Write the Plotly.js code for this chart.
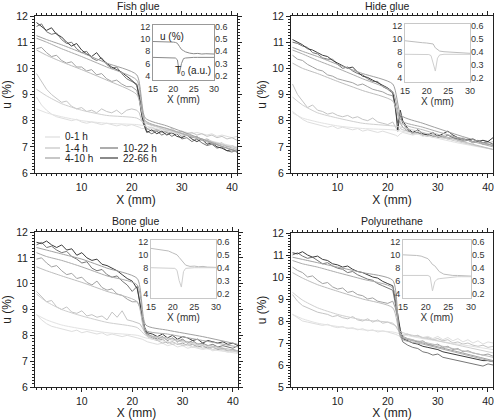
<!DOCTYPE html>
<html><head><meta charset="utf-8">
<script src="https://cdn.plot.ly/plotly-3.0.1.min.js"></script>
<style>html,body{margin:0;padding:0;background:#fff}</style>
</head><body>
<div id="chart" style="width:494px;height:420px"></div>
<script>
// ---------- DATA ----------
const seriesNames = ['0-1 h', '1-4 h', '4-10 h', '10-22 h', '22-66 h'];
const panelTitles = ['Fish glue', 'Hide glue', 'Bone glue', 'Polyurethane'];

// measured profiles: X (mm)
const X = [1,2,3,4,5,6,7,8,9,10,11,12,13,14,15,16,17,18,19,20,21,
  21.5,22,22.5,
  23,24,25,26,27,28,29,30,31,32,33,34,35,36,37,38,39,40,41];

// Fish glue
const fish_0_1 = [8.9,8.6,8.4,8.25,8.15,8.1,8.05,8.0,8.05,7.95,7.9,7.95,7.9,7.85,7.9,7.85,7.8,7.85,7.8,7.85,7.8,
  7.75,7.7,7.7,
  7.65,7.7,7.65,7.6,7.65,7.6,7.55,7.6,7.55,7.5,7.55,7.5,7.45,7.5,7.4,7.45,7.4,7.35,7.4];
const fish_1_4 = [9.8,9.5,9.2,9.0,8.85,8.7,8.75,8.55,8.45,8.5,8.35,8.4,8.3,8.45,8.35,8.3,8.4,8.25,8.4,8.45,8.4,
  8.3,8.0,7.8,
  7.7,7.75,7.65,7.7,7.6,7.7,7.55,7.6,7.5,7.55,7.45,7.5,7.4,7.45,7.35,7.4,7.3,7.35,7.25];
const fish_4_10 = [10.75,10.8,10.6,10.45,10.5,10.3,10.2,10.25,10.05,10.05,9.9,9.95,9.75,9.8,9.6,9.5,9.55,9.4,9.3,9.3,9.15,
  8.8,8.2,7.9,
  7.7,7.6,7.65,7.55,7.6,7.5,7.55,7.4,7.45,7.35,7.4,7.25,7.3,7.2,7.1,7.15,7.0,7.05,6.95];
const fish_10_22 = [11.6,11.7,11.4,11.3,11.35,11.1,10.95,11.0,10.75,10.6,10.65,10.4,10.3,10.4,10.15,10.0,10.05,9.8,9.6,9.5,9.4,
  9.0,8.4,7.9,
  7.6,7.5,7.6,7.45,7.55,7.4,7.5,7.3,7.35,7.2,7.3,7.15,7.05,7.1,6.95,7.0,6.85,6.8,6.9];
const fish_22_66 = [11.75,11.6,11.45,11.55,11.3,11.2,11.0,10.85,10.95,10.7,10.55,10.45,10.6,10.35,10.2,10.05,9.95,9.85,9.7,9.55,9.35,
  8.9,8.2,7.8,
  7.55,7.65,7.5,7.6,7.45,7.55,7.4,7.35,7.45,7.3,7.2,7.3,7.1,7.15,7.0,6.95,6.85,6.9,6.8];

// Hide glue
const hide_0_1 = [8.35,8.2,8.05,7.95,7.9,7.85,7.8,7.75,7.8,7.7,7.75,7.7,7.65,7.7,7.6,7.65,7.6,7.55,7.6,7.55,7.5,
  7.45,7.4,7.5,
  7.55,7.5,7.45,7.5,7.4,7.45,7.35,7.4,7.3,7.35,7.25,7.3,7.2,7.25,7.15,7.2,7.1,7.15,7.1];
const hide_1_4 = [9.4,9.0,8.75,8.5,8.6,8.4,8.35,8.25,8.3,8.2,8.15,8.2,8.1,8.15,8.05,8.0,8.1,7.95,7.9,7.85,7.95,
  7.8,7.6,7.7,
  7.65,7.6,7.55,7.5,7.55,7.45,7.5,7.4,7.45,7.35,7.4,7.3,7.35,7.25,7.3,7.2,7.25,7.15,7.2];
const hide_4_10 = [10.5,10.35,10.3,10.15,10.05,9.95,9.9,9.75,9.7,9.6,9.55,9.5,9.45,9.35,9.4,9.3,9.2,9.15,9.1,9.0,8.95,
  8.6,8.2,7.9,
  7.75,7.6,7.5,7.55,7.45,7.4,7.45,7.35,7.4,7.3,7.35,7.25,7.2,7.25,7.15,7.2,7.1,7.1,7.05];
const hide_10_22 = [11.0,10.95,10.85,10.8,10.6,10.55,10.4,10.35,10.35,10.15,10.0,10.05,9.9,9.8,9.75,9.6,9.5,9.5,9.3,9.2,9.05,
  8.4,7.9,8.2,
  7.9,7.65,7.5,7.55,7.45,7.5,7.4,7.45,7.35,7.45,7.35,7.3,7.25,7.3,7.2,7.25,7.15,7.2,7.1];
const hide_22_66 = [11.1,11.0,10.9,10.75,10.7,10.6,10.5,10.45,10.3,10.2,10.1,10.0,10.05,9.85,9.7,9.65,9.55,9.45,9.35,9.25,9.1,
  8.6,7.6,8.4,
  8.0,7.7,7.55,7.65,7.5,7.45,7.55,7.4,7.5,7.6,7.45,7.35,7.3,7.25,7.3,7.2,7.25,7.2,7.35];

// Bone glue
const bone_0_1 = [8.8,8.6,8.45,8.35,8.3,8.25,8.2,8.15,8.2,8.1,8.15,8.1,8.05,8.1,8.0,8.05,8.0,7.95,8.0,7.95,7.9,
  7.9,7.85,7.8,
  7.75,7.7,7.65,7.7,7.6,7.65,7.55,7.6,7.5,7.55,7.5,7.45,7.5,7.4,7.45,7.4,7.35,7.4,7.35];
const bone_1_4 = [9.7,9.5,9.3,9.35,9.1,9.0,9.1,8.9,8.85,8.95,8.75,8.8,8.7,8.75,8.6,8.9,8.7,8.95,8.6,8.55,8.5,
  8.45,8.3,8.1,
  7.95,7.85,7.8,7.7,7.75,7.65,7.7,7.6,7.65,7.55,7.6,7.5,7.55,7.45,7.5,7.45,7.4,7.45,7.35];
const bone_4_10 = [10.95,11.0,10.8,10.65,10.7,10.5,10.35,10.4,10.2,10.25,10.05,9.95,10.1,9.85,9.75,9.8,9.6,9.55,9.4,9.3,9.3,
  9.1,8.7,8.2,
  8.0,7.9,7.8,7.85,7.7,7.75,7.65,7.7,7.6,7.65,7.55,7.6,7.5,7.55,7.45,7.5,7.4,7.45,7.4];
const bone_10_22 = [11.5,11.6,11.4,11.45,11.3,11.2,11.25,11.05,10.95,10.8,10.85,10.6,10.5,10.55,10.35,10.25,10.3,10.1,9.95,9.7,9.9,
  9.2,8.6,8.2,
  8.05,7.95,7.85,7.95,7.8,7.9,7.75,7.85,7.7,7.8,7.65,7.7,7.6,7.65,7.55,7.6,7.55,7.5,7.6];
const bone_22_66 = [11.6,11.55,11.65,11.5,11.4,11.5,11.3,11.35,11.1,11.2,11.0,10.9,10.95,10.75,10.7,10.6,10.5,10.35,10.2,10.1,9.8,
  9.3,8.7,8.3,
  8.1,8.05,7.95,8.05,7.9,8.0,7.85,7.95,7.9,7.8,7.85,7.7,7.8,7.75,7.7,7.75,7.65,7.7,7.6];

// Polyurethane
const pu_0_1 = [8.3,8.15,8.0,7.95,7.9,7.85,7.8,7.85,7.75,7.7,7.75,7.65,7.7,7.6,7.65,7.55,7.6,7.5,7.55,7.5,7.45,
  7.4,7.35,7.3,
  7.35,7.4,7.3,7.35,7.25,7.3,7.2,7.3,7.15,7.25,7.1,7.2,7.05,7.15,7.0,7.1,6.95,7.05,7.0];
const pu_1_4 = [9.2,8.9,8.7,8.6,8.5,8.4,8.35,8.3,8.2,8.25,8.15,8.1,8.2,8.05,8.0,8.1,7.95,8.05,7.9,7.95,7.85,
  7.8,7.6,7.45,
  7.35,7.4,7.3,7.35,7.2,7.25,7.15,7.2,7.1,7.15,7.0,7.05,6.95,7.0,6.9,6.85,6.9,6.8,6.85];
const pu_4_10 = [10.45,10.3,10.2,10.0,10.05,9.85,9.7,9.75,9.55,9.45,9.5,9.3,9.35,9.2,9.15,9.0,9.05,8.9,8.85,8.8,8.9,
  8.6,8.1,7.6,
  7.3,7.2,7.15,7.05,7.1,6.95,6.9,6.95,6.8,6.85,6.7,6.75,6.6,6.65,6.55,6.5,6.45,6.5,6.4];
const pu_10_22 = [11.0,11.1,10.95,10.85,10.9,10.75,10.6,10.65,10.5,10.4,10.35,10.2,10.25,10.1,10.0,9.9,9.85,9.7,9.6,9.5,9.4,
  8.8,8.0,7.4,
  7.05,6.9,6.8,6.75,6.6,6.55,6.45,6.5,6.35,6.3,6.25,6.2,6.15,6.1,6.05,6.0,5.95,6.05,6.0];
const pu_22_66 = [11.1,11.05,11.15,11.0,10.9,10.95,10.8,10.75,10.6,10.55,10.45,10.5,10.35,10.25,10.2,10.1,10.0,9.95,9.8,9.7,9.6,
  9.0,8.2,7.6,
  7.2,7.1,7.0,6.95,6.85,6.8,6.75,6.7,6.6,6.55,6.5,6.45,6.4,6.35,6.3,6.25,6.2,6.2,6.15];

// fitted profiles
const fitX = [1,3,6,10,15,21,22.7,27,34,41];
const fishFit_0_1   = [8.45,8.3,8.15,8.0,7.9,7.85,7.8,7.6,7.3,7.0];
const fishFit_1_4   = [9.2,8.95,8.65,8.4,8.2,8.1,7.9,7.65,7.3,6.95];
const fishFit_4_10  = [10.7,10.5,10.25,9.95,9.55,9.0,7.95,7.7,7.3,6.9];
const fishFit_10_22 = [11.15,11.0,10.75,10.45,10.05,9.55,8.0,7.7,7.25,6.85];
const fishFit_22_66 = [11.25,11.1,10.9,10.6,10.2,9.75,8.1,7.8,7.3,6.8];
const hideFit_0_1   = [8.3,8.1,7.95,7.8,7.7,7.65,7.6,7.45,7.15,6.9];
const hideFit_1_4   = [8.9,8.6,8.3,8.1,7.9,7.8,7.75,7.55,7.2,6.9];
const hideFit_4_10  = [10.2,10.0,9.8,9.5,9.15,8.75,7.9,7.65,7.25,6.9];
const hideFit_10_22 = [10.7,10.55,10.3,10.0,9.6,9.1,8.0,7.75,7.35,7.0];
const hideFit_22_66 = [10.8,10.65,10.45,10.15,9.8,9.4,8.2,7.9,7.45,7.05];
const boneFit_0_1   = [8.8,8.6,8.4,8.25,8.1,8.0,7.9,7.75,7.5,7.3];
const boneFit_1_4   = [9.6,9.3,9.0,8.75,8.5,8.3,8.0,7.85,7.6,7.35];
const boneFit_4_10  = [10.65,10.5,10.3,10.05,9.7,9.3,8.05,7.9,7.65,7.4];
const boneFit_10_22 = [11.2,11.05,10.9,10.65,10.3,9.95,8.2,8.05,7.8,7.55];
const boneFit_22_66 = [11.4,11.3,11.15,10.95,10.6,10.2,8.4,8.2,7.95,7.65];
const puFit_0_1     = [8.3,8.1,7.9,7.75,7.6,7.5,7.4,7.2,6.95,6.7];
const puFit_1_4     = [9.3,8.95,8.6,8.3,8.05,7.9,7.5,7.25,6.9,6.55];
const puFit_4_10    = [10.2,9.95,9.65,9.35,9.0,8.6,7.3,7.05,6.7,6.35];
const puFit_10_22   = [10.75,10.6,10.45,10.2,9.9,9.5,7.2,6.95,6.55,6.15];
const puFit_22_66   = [10.9,10.8,10.65,10.45,10.2,9.85,7.3,7.0,6.6,6.2];

// insets: u (%) and T0 (a.u.)
const insetX = [15,16,17,18,19,20,20.5,21,21.5,22,22.5,23,24,25,26,27,28,29,30];
const fishInsetU = [9.6,9.6,9.55,9.6,9.5,9.5,9.45,9.3,8.8,8.3,8.1,7.9,7.7,7.6,7.65,7.55,7.6,7.55,7.55];
const fishInsetT = [0.35,0.35,0.35,0.35,0.35,0.348,0.345,0.33,0.22,0.3,0.34,0.345,0.35,0.35,0.35,0.35,0.35,0.35,0.35];
const hideInsetU = [9.7,9.6,9.55,9.45,9.4,9.35,9.3,9.25,9.2,8.6,8.4,8.1,8.0,7.95,7.9,7.9,7.85,7.8,7.75];
const hideInsetT = [0.38,0.38,0.38,0.38,0.38,0.38,0.378,0.37,0.3,0.25,0.35,0.375,0.38,0.38,0.38,0.38,0.38,0.38,0.38];
const boneInsetU = [11.0,10.9,10.8,10.7,10.6,10.3,10.2,10.0,9.6,9.2,8.8,8.4,8.2,8.25,8.15,8.2,8.1,8.1,8.05];
const boneInsetT = [0.4,0.4,0.4,0.4,0.4,0.4,0.395,0.38,0.3,0.25,0.37,0.395,0.4,0.4,0.4,0.4,0.4,0.4,0.4];
const puInsetU = [10.0,10.0,9.95,9.9,9.8,9.6,9.4,9.0,8.5,8.3,7.9,7.4,7.0,6.85,6.8,6.8,6.75,6.75,6.7];
const puInsetT = [0.34,0.34,0.34,0.34,0.34,0.34,0.34,0.33,0.22,0.29,0.31,0.315,0.32,0.325,0.33,0.33,0.33,0.33,0.33];

// ---------- STYLE / LAYOUT ----------
const W = 494, H = 420;
const FONT = 'Liberation Sans, Arial, Helvetica, sans-serif';
const dataColors = ['#dedede', '#c4c4c4', '#a2a2a2', '#777777', '#3c3c3c'];
const fitColors  = ['#e2e2e2', '#cfcfcf', '#bdbdbd', '#ababab', '#a0a0a0'];
const fx = p => p / W;
const fy = p => 1 - p / H;

const panels = [
  {data:[fish_0_1,fish_1_4,fish_4_10,fish_10_22,fish_22_66],
   fits:[fishFit_0_1,fishFit_1_4,fishFit_4_10,fishFit_10_22,fishFit_22_66],
   iu:fishInsetU, it:fishInsetT, box:[35,237,16,173], inset:[153,214,25,80], yr:[6,12], dark:true, tx:138, ty:6},
  {data:[hide_0_1,hide_1_4,hide_4_10,hide_10_22,hide_22_66],
   fits:[hideFit_0_1,hideFit_1_4,hideFit_4_10,hideFit_10_22,hideFit_22_66],
   iu:hideInsetU, it:hideInsetT, box:[291,493,16,173], inset:[405,470,24,82], yr:[6,12], dark:false, tx:387, ty:6},
  {data:[bone_0_1,bone_1_4,bone_4_10,bone_10_22,bone_22_66],
   fits:[boneFit_0_1,boneFit_1_4,boneFit_4_10,boneFit_10_22,boneFit_22_66],
   iu:boneInsetU, it:boneInsetT, box:[35,238,232,387], inset:[151,216,240,298], yr:[6,12], dark:false, tx:135, ty:221},
  {data:[pu_0_1,pu_1_4,pu_4_10,pu_10_22,pu_22_66],
   fits:[puFit_0_1,puFit_1_4,puFit_4_10,puFit_10_22,puFit_22_66],
   iu:puInsetU, it:puInsetT, box:[291,493,233,387], inset:[403,471,240,298], yr:[5,12], dark:false, tx:392, ty:221}
];

const traces = [];
const layout = {
  width: W, height: H, margin: {l:0, r:0, t:0, b:0},
  paper_bgcolor: '#fff', plot_bgcolor: 'rgba(0,0,0,0)',
  showlegend: false, font: {family: FONT, color: '#222', size: 10},
  annotations: [], shapes: []
};

function ax(n) { return n === 1 ? '' : String(n); }

panels.forEach((p, i) => {
  const k = i + 1;
  const xa = 'x' + ax(k), ya = 'y' + ax(k);
  layout['xaxis' + ax(k)] = {
    domain: [fx(p.box[0]), fx(p.box[1])], anchor: ya, range: [0.7, 41],
    dtick: 10, tick0: 0, ticks: 'outside', ticklen: 4, tickcolor: '#222',
    showline: true, linecolor: '#222', linewidth: 1, mirror: 'allticks',
    showgrid: false, zeroline: false,
    minor: {dtick: 1, ticks: 'outside', ticklen: 2, tickcolor: '#222', showgrid: false},
    tickfont: {size: 10.5, family: FONT, color: '#222'},
    title: {text: 'X (mm)', font: {size: 12, family: FONT, color: '#222'}, standoff: 4},
    automargin: false
  };
  layout['yaxis' + ax(k)] = {
    domain: [fy(p.box[3]), fy(p.box[2])], anchor: xa, range: p.yr,
    dtick: 1, ticks: 'outside', ticklen: 4, tickcolor: '#222',
    showline: true, linecolor: '#222', linewidth: 1, mirror: 'allticks',
    showgrid: false, zeroline: false,
    minor: {dtick: 0.125, ticks: 'outside', ticklen: 2, tickcolor: '#222', showgrid: false},
    tickfont: {size: 10.5, family: FONT, color: '#222'},
    title: {text: 'u (%)', font: {size: 12, family: FONT, color: '#222'}, standoff: 3},
    automargin: false
  };
  // measured profiles
  p.data.forEach((d, s) => {
    traces.push({x: X, y: d, xaxis: xa, yaxis: ya, type: 'scatter', mode: 'lines',
      name: seriesNames[s], line: {color: dataColors[s], width: 1}, hoverinfo: 'skip'});
  });
  // fits
  p.fits.forEach((d, s) => {
    traces.push({x: fitX, y: d, xaxis: xa, yaxis: ya, type: 'scatter', mode: 'lines',
      name: seriesNames[s] + ' fit', line: {color: fitColors[s], width: 1, shape: 'spline', smoothing: 0.6}, hoverinfo: 'skip'});
  });
  // panel title
  layout.annotations.push({text: panelTitles[i], xref: 'paper', yref: 'paper', x: fx(p.tx), y: fy(p.ty),
    xanchor: 'center', yanchor: 'middle', showarrow: false, font: {size: 10.5, family: FONT, color: '#222'}});

  // inset
  const ix = 'x' + (5 + i), iyl = 'y' + (5 + 2 * i), iyr = 'y' + (6 + 2 * i);
  const frameCol = p.dark ? '#999' : '#c8c8c8';
  const labCol = '#333';
  layout['xaxis' + (5 + i)] = {
    domain: [fx(p.inset[0]), fx(p.inset[1])], anchor: iyl, range: [15, 30],
    dtick: 5, ticks: '', showline: true, linecolor: frameCol, linewidth: 1, mirror: true,
    showgrid: false, zeroline: false, tickfont: {size: 9, family: FONT, color: labCol},
    title: {text: 'X (mm)', font: {size: 10, family: FONT, color: labCol}, standoff: 1}, automargin: false
  };
  layout['yaxis' + (5 + 2 * i)] = {
    domain: [fy(p.inset[3]), fy(p.inset[2])], anchor: ix, range: [3.3, 12.3],
    tickvals: [4, 6, 8, 10, 12], ticks: '', showline: true, linecolor: frameCol, linewidth: 1, mirror: true,
    showgrid: false, zeroline: false, tickfont: {size: 9, family: FONT, color: labCol}, automargin: false
  };
  layout['yaxis' + (6 + 2 * i)] = {
    domain: [fy(p.inset[3]), fy(p.inset[2])], anchor: ix, overlaying: iyl, side: 'right', range: [0.165, 0.615],
    tickvals: [0.2, 0.3, 0.4, 0.5, 0.6], ticks: '', showline: false,
    showgrid: false, zeroline: false, tickfont: {size: 9, family: FONT, color: labCol}, automargin: false
  };
  // inset background box to hide main lines under it
  layout.shapes.push({type: 'rect', xref: ix + ' domain', yref: iyl + ' domain', x0: 0, x1: 1, y0: 0, y1: 1,
    fillcolor: '#fff', line: {width: 0}, layer: 'below'});
  traces.push({x: insetX, y: p.iu, xaxis: ix, yaxis: iyl, type: 'scatter', mode: 'lines',
    name: 'u', line: {color: p.dark ? '#8a8a8a' : '#bdbdbd', width: 1}, hoverinfo: 'skip'});
  traces.push({x: insetX, y: p.it, xaxis: ix, yaxis: iyr, type: 'scatter', mode: 'lines',
    name: 'T0', line: {color: p.dark ? '#8a8a8a' : '#cfcfcf', width: 1}, hoverinfo: 'skip'});
  if (p.dark) {
    layout.annotations.push({text: 'u (%)', xref: ix + ' domain', yref: iyl + ' domain', x: 0.08, y: 0.8,
      xanchor: 'left', yanchor: 'middle', showarrow: false, font: {size: 10, family: FONT, color: '#222'}});
    layout.annotations.push({text: 'T<sub>0</sub> (a.u.)', xref: ix + ' domain', yref: iyl + ' domain', x: 0.98, y: 0.17,
      xanchor: 'right', yanchor: 'middle', showarrow: false, font: {size: 10, family: FONT, color: '#222'}});
  }
});

// legend (fish glue panel), drawn in page pixels
const legendItems = [
  {s: 0, lx: [45, 60], tx: 63, y: 137},
  {s: 1, lx: [45, 60], tx: 63, y: 148},
  {s: 2, lx: [45, 60], tx: 63, y: 158},
  {s: 3, lx: [100, 118], tx: 121, y: 148},
  {s: 4, lx: [100, 118], tx: 121, y: 158}
];
legendItems.forEach(it => {
  layout.shapes.push({type: 'line', xref: 'paper', yref: 'paper', x0: fx(it.lx[0]), x1: fx(it.lx[1]),
    y0: fy(it.y), y1: fy(it.y), line: {color: dataColors[it.s], width: 1.2}});
  layout.annotations.push({text: seriesNames[it.s], xref: 'paper', yref: 'paper', x: fx(it.tx), y: fy(it.y),
    xanchor: 'left', yanchor: 'middle', showarrow: false, font: {size: 10, family: FONT, color: '#222'}});
});

Plotly.newPlot('chart', traces, layout, {staticPlot: true, displayModeBar: false});
</script>
</body></html>
